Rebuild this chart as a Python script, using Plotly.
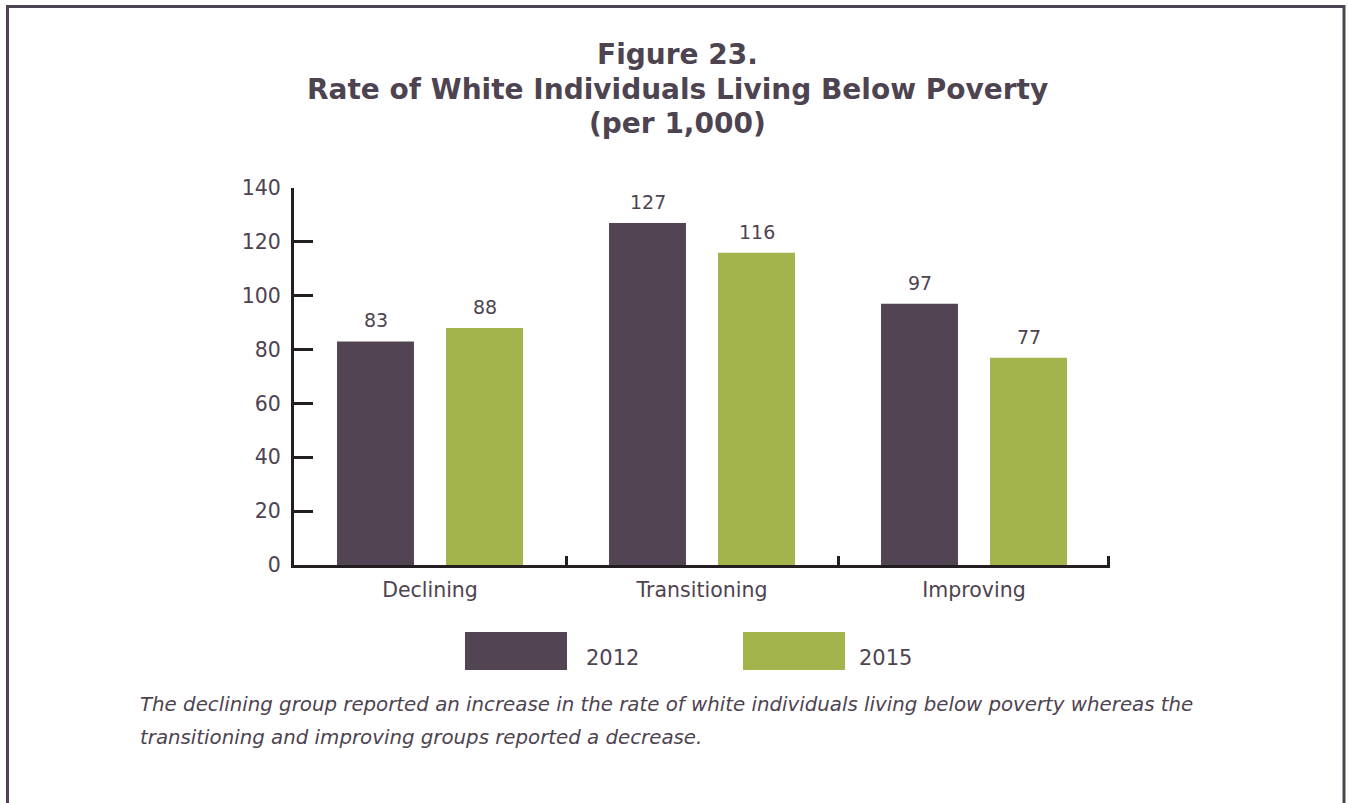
import plotly.graph_objects as go

categories = ["Declining", "Transitioning", "Improving"]
series_names = ["2012", "2015"]
values_2012 = [83, 127, 97]
values_2015 = [88, 116, 77]
y_ticks = [0, 20, 40, 60, 80, 100, 120, 140]

title_lines = ["Figure 23.", "Rate of White Individuals Living Below Poverty", "(per 1,000)"]
caption_lines = [
    "The declining group reported an increase in the rate of white individuals "
    "living below poverty whereas the",
    "transitioning and improving groups reported a decrease.",
]

TEXT = "#4e4350"
DARK = "#524452"
GREEN = "#a2b44b"
AXIS = "#231f20"
FONT = "DejaVu Sans"

# plot area in pixels
W, H = 1348, 803
L, R, T, B = 294, 1110, 188, 565
pw, ph = R - L, B - T


def px_x(x):
    return (x - L) / pw


def px_y(y):
    return (B - y) / ph


fig = go.Figure()
for name, vals, col in [(series_names[0], values_2012, DARK),
                        (series_names[1], values_2015, GREEN)]:
    fig.add_trace(go.Bar(x=categories, y=vals, name=name, marker_color=col,
                         marker_line_width=0, showlegend=False))

annotations = []
# value labels above bars
for vals, shift in [(values_2012, -54.5), (values_2015, 54.5)]:
    for c, v in zip(categories, vals):
        annotations.append(dict(x=c, y=v, xref="x", yref="y", text=str(v),
                                showarrow=False, xshift=shift, yshift=8,
                                yanchor="bottom",
                                font=dict(family=FONT, size=19, color=TEXT)))

# title, one annotation per line
for line, yc in zip(title_lines, [55, 89, 123]):
    annotations.append(dict(
        x=px_x(W / 2 + 3), xref="paper", y=px_y(yc), yref="paper", yanchor="middle",
        text=f"<b>{line}</b>", showarrow=False,
        font=dict(family=FONT, size=28, color=TEXT)))

# legend: swatches and labels (swatch left edge, label left edge)
legend_items = [(series_names[0], DARK, 465, 586), (series_names[1], GREEN, 743, 859)]
shapes = []
for name, col, x0, tx in legend_items:
    shapes.append(dict(type="rect", xref="paper", yref="paper",
                       x0=px_x(x0), x1=px_x(x0 + 102),
                       y0=px_y(670), y1=px_y(632),
                       fillcolor=col, line_width=0))
    annotations.append(dict(x=px_x(tx), y=px_y(658), xref="paper", yref="paper",
                            xanchor="left", yanchor="middle", text=name,
                            showarrow=False, xshift=-2,
                            font=dict(family=FONT, size=21, color=TEXT)))

# caption
for line, yc in zip(caption_lines, [704, 737]):
    annotations.append(dict(
        x=px_x(138), y=px_y(yc), xref="paper", yref="paper",
        xanchor="left", yanchor="middle", align="left", showarrow=False,
        text=f"<i>{line}</i>",
        font=dict(family=FONT, size=19.8, color=TEXT)))

# closing tick at the right end of the category axis
shapes.append(dict(type="line", xref="paper", yref="paper",
                   x0=px_x(1108.5), x1=px_x(1108.5), y0=0, y1=px_y(556),
                   line=dict(color=AXIS, width=3)))

# page frame
shapes.append(dict(type="path", xref="paper", yref="paper",
                   path=f"M {px_x(7.5)},{px_y(830)} L {px_x(7.5)},{px_y(6.5)} "
                        f"L {px_x(1344)},{px_y(6.5)} L {px_x(1344)},{px_y(830)}",
                   line=dict(color=TEXT, width=3)))

fig.update_layout(
    width=W, height=H,
    margin=dict(l=L, r=W - R, t=T, b=H - B, pad=0),
    paper_bgcolor="white", plot_bgcolor="white",
    barmode="group", bargap=0.1985, bargroupgap=0.294,
    annotations=annotations, shapes=shapes,
    font=dict(family=FONT, color=TEXT),
    xaxis=dict(showline=True, linecolor=AXIS, linewidth=3,
               ticks="inside", tickson="boundaries", ticklen=9, tickwidth=3,
               tickcolor=AXIS, showgrid=False, zeroline=False,
               tickfont=dict(family=FONT, size=20.5, color=TEXT),
               ticklabelstandoff=4),
    yaxis=dict(range=[0, 140], tickvals=y_ticks, showline=True, linecolor=AXIS,
               linewidth=3, ticks="inside", ticklen=19, tickwidth=3,
               tickcolor=AXIS, showgrid=False, zeroline=False,
               tickfont=dict(family=FONT, size=20.5, color=TEXT),
               ticklabelstandoff=6),
)

fig.write_html("out.html")
